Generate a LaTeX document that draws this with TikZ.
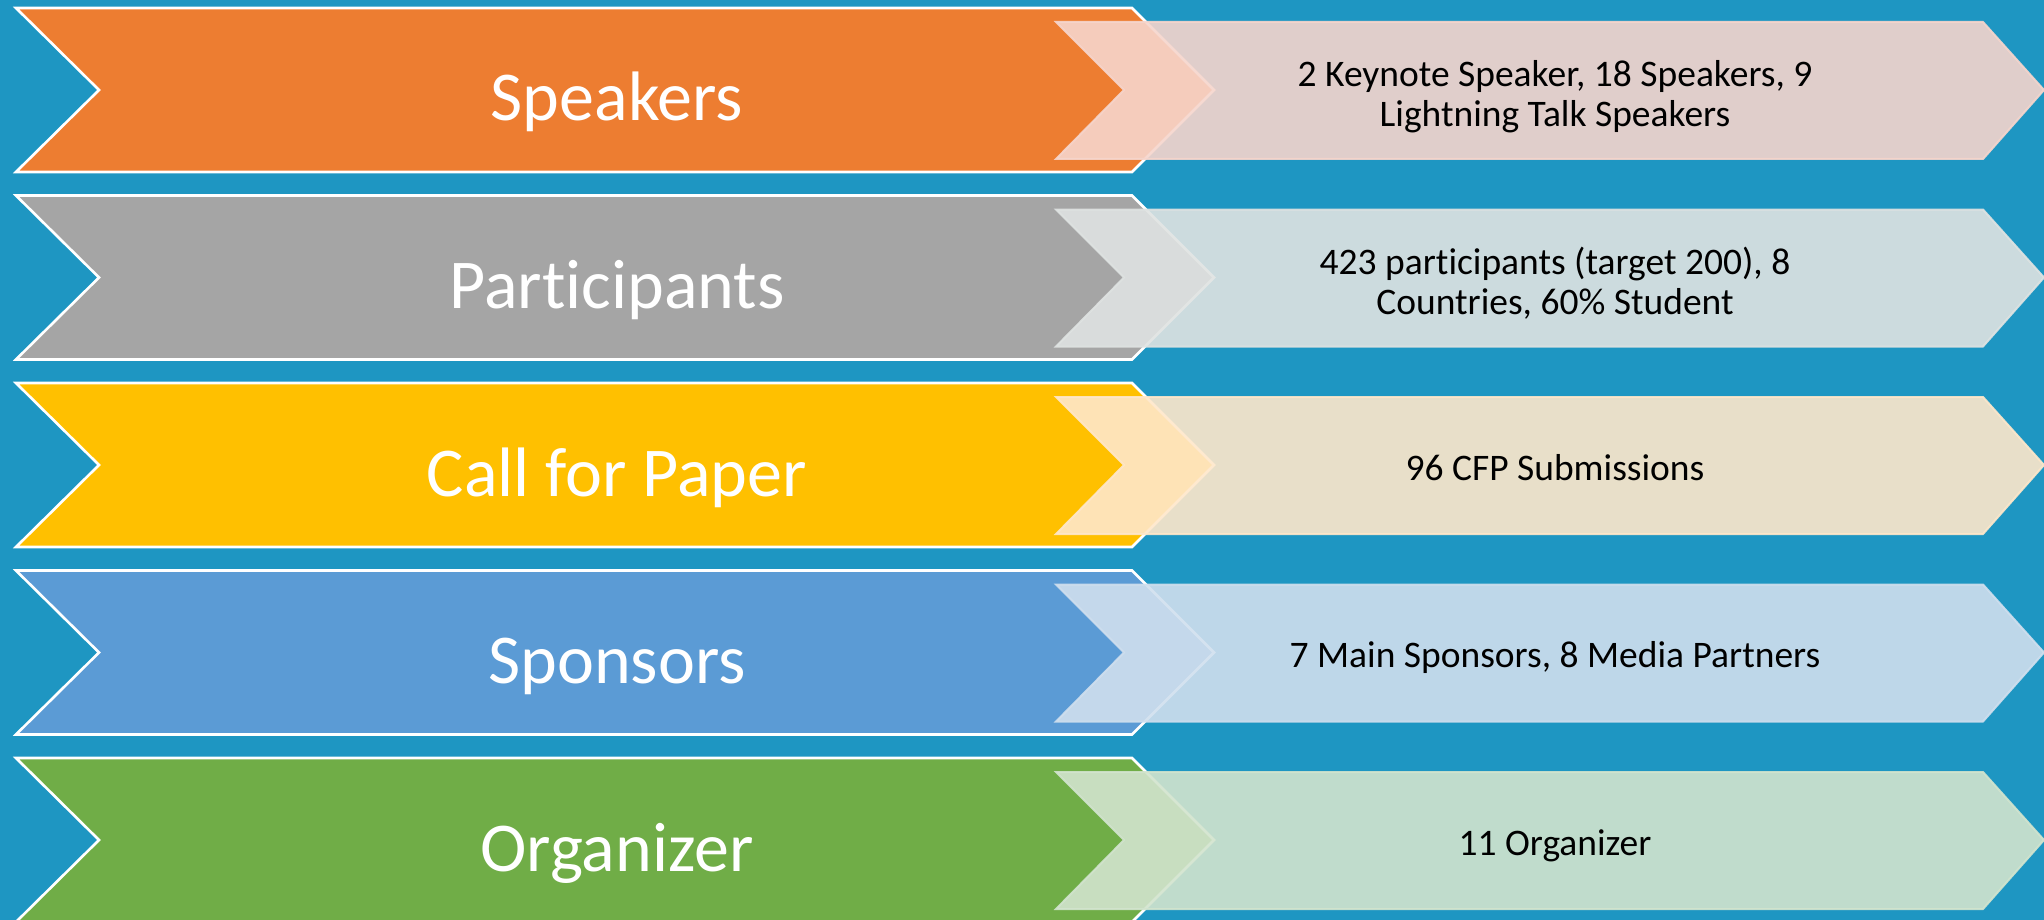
\documentclass[tikz,border=0pt]{standalone}
\usepackage{fontspec}
\setmainfont{Carlito}[Ligatures=CommonOff]
\definecolor{bgblue}{RGB}{30,150,194}
\definecolor{cOrange}{RGB}{237,125,49}
\definecolor{cGray}{RGB}{165,165,165}
\definecolor{cYellow}{RGB}{255,192,0}
\definecolor{cBlue}{RGB}{91,155,213}
\definecolor{cGreen}{RGB}{112,173,71}
\definecolor{lOrange}{RGB}{246,213,204}
\definecolor{lGray}{RGB}{223,227,226}
\definecolor{lYellow}{RGB}{254,231,202}
\definecolor{lBlue}{RGB}{208,223,238}
\definecolor{lGreen}{RGB}{210,228,206}
\tikzset{
  chev/.style={draw=white, line width=2.6pt, line join=miter},
  lightarrow/.style={opacity=0.9, line width=2pt, line join=miter},
  biglabel/.style={text=white, font=\fontsize{70}{84}\selectfont, inner sep=0pt, anchor=base},
  infotext/.style={text=black, font=\fontsize{37.5}{40}\selectfont, inner sep=0pt, anchor=base},
}
\newcommand{\rowshapes}[3]{%
  % #1 = top y, #2 = dark colour, #3 = light colour
  \fill[#2] (16,#1) -- (1132,#1) -- (1214,#1+82) -- (1132,#1+164) -- (16,#1+164) -- (99,#1+82) -- cycle;
  \draw[chev] (16,#1) -- (1132,#1) -- (1214,#1+82) -- (1132,#1+164) -- (16,#1+164) -- (99,#1+82) -- cycle;
  \filldraw[lightarrow, fill=#3, draw=#3] (1056,#1+14) -- (1983,#1+14) -- (2044,#1+82) -- (1983,#1+151) -- (1056,#1+151) -- (1124,#1+82) -- cycle;
}
\begin{document}
\begin{tikzpicture}[x=1pt, y=-1pt]
\useasboundingbox (0,0) rectangle (2044,920);
\clip (0,0) rectangle (2044,920);
\fill[bgblue] (0,0) rectangle (2044,920);

\rowshapes{8}{cOrange}{lOrange}
\rowshapes{195.5}{cGray}{lGray}
\rowshapes{383}{cYellow}{lYellow}
\rowshapes{570.5}{cBlue}{lBlue}
\rowshapes{758}{cGreen}{lGreen}

\node[biglabel] (l1) at (617,121) {Speakers};
\node[biglabel] (l2) at (617,308.5) {Participants};
\node[biglabel] (l3) at (617,496) {Call for Paper};
\node[biglabel] (l4) at (617,683.5) {Sponsors};
\node[biglabel] (l5) at (617,871) {Organizer};

\node[infotext] (r1) at (1555,86.5) {\begin{tabular}[t]{@{}c@{}}2 Keynote Speaker, 18 Speakers, 9\\Lightning Talk Speakers\end{tabular}};
\node[infotext] (r2) at (1555,274) {\begin{tabular}[t]{@{}c@{}}423 participants (target 200), 8\\Countries, 60\% Student\end{tabular}};
\node[infotext] (r3) at (1555,480) {96 CFP Submissions};
\node[infotext] (r4) at (1555,667.5) {7 Main Sponsors, 8 Media Partners};
\node[infotext] (r5) at (1555,855) {11 Organizer};
\end{tikzpicture}
\end{document}
